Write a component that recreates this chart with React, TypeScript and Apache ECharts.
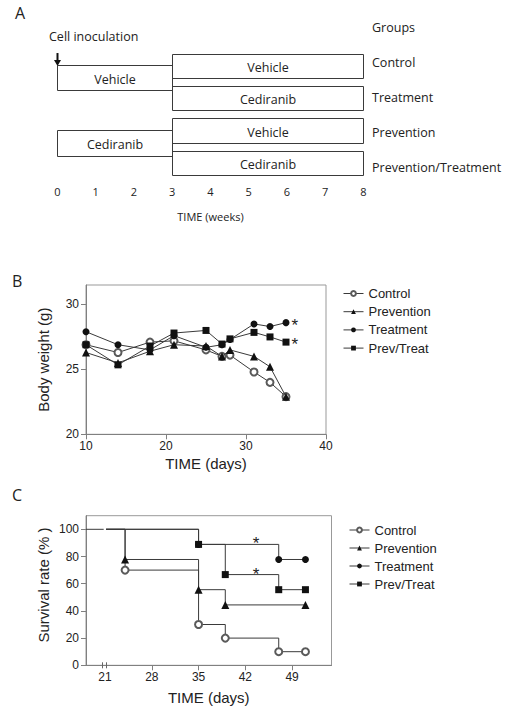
import { useEffect, useRef } from 'react';
import * as echarts from 'echarts';

// ---------- Panel A: schedule ----------
const weekTicks = [0, 1, 2, 3, 4, 5, 6, 7, 8];
// [startWeek, endWeek, rowTop, rowBottom]
const scheduleBoxes = [
  [0, 3, 0.371, 1.144],
  [3, 8, 0, 0.76],
  [3, 8, 1, 1.76],
  [0, 3, 2.38, 3.155],
  [3, 8, 2, 2.76],
  [3, 8, 3, 3.76],
];
const scheduleLabels = ['Vehicle', 'Vehicle', 'Cediranib', 'Cediranib', 'Vehicle', 'Cediranib'];
const groupNames = ['Control', 'Treatment', 'Prevention', 'Prevention/Treatment'];
const inoculationArrow = [[0, -0.03, 0.371]];

// ---------- Panel B: body weight ----------
const seriesNames = ['Control', 'Prevention', 'Treatment', 'Prev/Treat'];
const weightDays = [10, 14, 18, 21, 25, 27, 28, 31, 33, 35];
const weightControl = [26.9, 26.3, 27.1, 27.2, 26.5, 26.0, 26.1, 24.8, 24.0, 22.9];
const weightPrevention = [26.3, 25.5, 26.4, 26.9, 26.8, 26.0, 26.5, 26.0, 25.2, 22.9];
const weightTreatment = [27.9, 26.9, 26.5, 27.6, 26.7, 26.9, 27.3, 28.5, 28.3, 28.6];
const weightPrevTreat = [26.9, 25.35, 26.8, 27.8, 28.0, 26.95, 27.35, 27.85, 27.5, 27.1];
const weightStars = [[36.1, 28.68], [36.1, 27.2]];
const weightTicks = [20, 25, 30];
const weightDayTicks = [10, 20, 30, 40];

// ---------- Panel C: survival ----------
const survivalControl = [[21.15, 100], [24, 70], [35, 30], [39, 20], [47, 10], [51, 10]];
const survivalPrevention = [[21.15, 100], [24, 77.8], [35, 55.6], [39, 44.4], [51, 44.4]];
const survivalTreatment = [[21.15, 100], [35, 88.9], [47, 77.8], [51, 77.8]];
const survivalPrevTreat = [[21.15, 100], [35, 88.9], [39, 66.7], [47, 55.6], [51, 55.6]];
const survivalBeforeBreak = [[18.15, 100], [20.8, 100]];
const survivalStars = [[43.6, 92.6], [43.6, 70]];
const axisBreakDays = [20.6, 21.15];
const survivalTicks = [0, 20, 40, 60, 80, 100];
const survivalDayLabels = [21, 28, 35, 42, 49];
const survivalDayTicks = [28, 35, 42, 49];

const symbols = ['emptyCircle', 'triangle', 'circle', 'rect'];

const SANS = '"Liberation Sans", Arial, sans-serif';
const HUMAN = '"Open Sans", sans-serif';
const INK = '#222';
const LINE = '#3a3a3a';
const FRAME = '#999';

function crisp(v: number) {
  return Math.round(v - 0.5) + 0.5;
}

export default function App() {
  const ref = useRef<HTMLDivElement>(null);

  useEffect(() => {
    if (!ref.current) return;
    const chart = echarts.init(ref.current, undefined, { renderer: 'svg' });

    const axisCommon = {
      axisLine: { show: true, lineStyle: { color: '#808080', width: 1 } },
      axisTick: { show: true, length: 5, lineStyle: { color: '#808080' } },
      splitLine: { show: false },
      nameTextStyle: { fontSize: 15, fontFamily: SANS, color: INK },
    };
    const labelCommon = { fontSize: 12, fontFamily: SANS, color: INK };

    const weightSets = [weightControl, weightPrevention, weightTreatment, weightPrevTreat];
    const survivalSets = [survivalControl, survivalPrevention, survivalTreatment, survivalPrevTreat];

    const markerStyle = (i: number) =>
      i === 0
        ? { color: '#5a5a5a', borderColor: '#5a5a5a', borderWidth: 1 }
        : { color: '#111', borderWidth: 0 };

    const weightSeries = seriesNames.map((name, i) => ({
      name,
      type: 'line',
      xAxisIndex: 1,
      yAxisIndex: 1,
      data: weightDays.map((d, j) => [d, weightSets[i][j]]),
      symbol: symbols[i],
      symbolSize: i === 1 ? 8 : 7,
      showSymbol: true,
      lineStyle: { color: LINE, width: 1 },
      itemStyle: markerStyle(i),
      emphasis: { disabled: true },
      z: 3 + i,
    }));

    const survivalSeries = seriesNames.map((name, i) => ({
      name,
      type: 'line',
      xAxisIndex: 2,
      yAxisIndex: 2,
      step: 'end',
      data: survivalSets[i].map((p, j) =>
        j === 0 ? { value: p, symbol: 'none' } : { value: p }
      ),
      symbol: symbols[i],
      symbolSize: i === 1 ? 8 : 7,
      lineStyle: { color: LINE, width: 1 },
      itemStyle: markerStyle(i),
      emphasis: { disabled: true },
      z: 3 + i,
    }));

    const starSeries = (xi: number, data: number[][]) => ({
      type: 'custom',
      xAxisIndex: xi,
      yAxisIndex: xi,
      data,
      z: 10,
      silent: true,
      renderItem: (_p: any, api: any) => {
        const c = api.coord([api.value(0), api.value(1)]);
        return {
          type: 'text',
          style: {
            text: '*',
            x: c[0],
            y: c[1] + 4,
            align: 'center',
            verticalAlign: 'middle',
            font: `17px ${SANS}`,
            fill: INK,
          },
        };
      },
    });

    const legendCommon = {
      orient: 'vertical',
      itemWidth: 20,
      itemHeight: 6,
      itemGap: 5,
      selectedMode: false,
      data: seriesNames,
      lineStyle: { width: 1 },
      textStyle: { fontSize: 13, fontFamily: SANS, color: INK },
    };

    const option: any = {
      animation: false,
      backgroundColor: '#fff',
      grid: [
        { left: 57.5, top: 54, width: 306, height: 121.6, outerBoundsMode: 'none' },
        {
          left: 86, top: 285, width: 240, height: 149.3, show: true,
          borderColor: FRAME, borderWidth: 1, backgroundColor: 'transparent', outerBoundsMode: 'none',
        },
        {
          left: 86, top: 515.7, width: 245.5, height: 149.6, show: true,
          borderColor: FRAME, borderWidth: 1, backgroundColor: 'transparent', outerBoundsMode: 'none',
        },
      ],
      xAxis: [
        {
          gridIndex: 0, type: 'value', min: 0, max: 8, interval: 1,
          axisLine: { show: false }, axisTick: { show: false }, splitLine: { show: false },
          axisLabel: {
            fontSize: 11, fontFamily: HUMAN, color: INK, margin: 10,
            customValues: weekTicks,
          },
          name: 'TIME (weeks)', nameLocation: 'middle', nameGap: 35,
          nameTextStyle: { fontSize: 11, fontFamily: HUMAN, color: INK },
        },
        {
          gridIndex: 1, type: 'value', min: 10, max: 40, interval: 10,
          ...axisCommon,
          axisTick: { ...axisCommon.axisTick, customValues: weightDayTicks },
          axisLabel: { ...labelCommon, margin: 6, customValues: weightDayTicks },
          name: 'TIME (days)', nameLocation: 'middle', nameGap: 22,
        },
        {
          gridIndex: 2, type: 'value', min: 18.15, max: 54.9,
          ...axisCommon,
          axisTick: { ...axisCommon.axisTick, customValues: survivalDayTicks },
          axisLabel: { ...labelCommon, margin: 6, customValues: survivalDayLabels },
          name: 'TIME (days)', nameLocation: 'middle', nameGap: 25,
        },
      ],
      yAxis: [
        { gridIndex: 0, type: 'value', min: 0, max: 3.76, inverse: true, show: false },
        {
          gridIndex: 1, type: 'value', min: 20, max: 31.5, interval: 5,
          ...axisCommon,
          axisTick: { ...axisCommon.axisTick, customValues: weightTicks },
          axisLabel: { ...labelCommon, margin: 7, customValues: weightTicks },
          name: 'Body weight (g)', nameLocation: 'middle', nameGap: 35,
        },
        {
          gridIndex: 2, type: 'value', min: 0, max: 110, interval: 20,
          ...axisCommon,
          axisTick: { ...axisCommon.axisTick, customValues: survivalTicks },
          axisLabel: { ...labelCommon, margin: 7, customValues: survivalTicks },
          name: 'Survival rate (% )', nameLocation: 'middle', nameGap: 35,
          nameTextStyle: { ...axisCommon.nameTextStyle, padding: [0, 0, 0, 11] },
        },
      ],
      legend: [
        { ...legendCommon, left: 338, top: 282, itemGap: 5.2 },
        { ...legendCommon, left: 344, top: 518.5, itemGap: 5 },
      ],
      graphic: [
        { type: 'text', x: 15, y: 13, style: { text: 'A', font: `16px ${HUMAN}`, fill: INK, verticalAlign: 'middle' } },
        { type: 'text', x: 12, y: 281, style: { text: 'B', font: `16px ${HUMAN}`, fill: INK, verticalAlign: 'middle' } },
        { type: 'text', x: 12, y: 494.5, style: { text: 'C', font: `16px ${HUMAN}`, fill: INK, verticalAlign: 'middle' } },
        { type: 'text', x: 49, y: 36, style: { text: 'Cell inoculation', font: `12.5px ${HUMAN}`, fill: INK, verticalAlign: 'middle' } },
        { type: 'text', x: 372, y: 27, style: { text: 'Groups', font: `12.5px ${HUMAN}`, fill: INK, verticalAlign: 'middle' } },
        ...groupNames.map((g, i) => ({
          type: 'text', x: 372, y: 62 + 35 * i,
          style: { text: g, font: `12.5px ${HUMAN}`, fill: INK, verticalAlign: 'middle' },
        })),
      ],
      series: [
        {
          type: 'custom',
          xAxisIndex: 0,
          yAxisIndex: 0,
          silent: true,
          data: scheduleBoxes.map((b, i) => [...b, i]),
          renderItem: (_p: any, api: any) => {
            const p0 = api.coord([api.value(0), api.value(2)]);
            const p1 = api.coord([api.value(1), api.value(3)]);
            const x0 = crisp(p0[0]);
            const y0 = crisp(p0[1]);
            const x1 = crisp(p1[0]);
            const y1 = crisp(p1[1]);
            const label = scheduleLabels[api.value(4)];
            return {
              type: 'group',
              children: [
                {
                  type: 'rect',
                  shape: { x: x0, y: y0, width: x1 - x0, height: y1 - y0 },
                  style: { fill: 'none', stroke: '#3a3a3a', lineWidth: 1 },
                },
                {
                  type: 'text',
                  style: {
                    text: label,
                    x: (x0 + x1) / 2,
                    y: (y0 + y1) / 2 + 1,
                    align: 'center',
                    verticalAlign: 'middle',
                    font: `12.5px ${HUMAN}`,
                    fill: INK,
                  },
                },
              ],
            };
          },
        },
        {
          type: 'custom',
          xAxisIndex: 0,
          yAxisIndex: 0,
          silent: true,
          data: inoculationArrow,
          renderItem: (_p: any, api: any) => {
            const top = api.coord([api.value(0), api.value(1)]);
            const tip = api.coord([api.value(0), api.value(2)]);
            const x = crisp(top[0]);
            return {
              type: 'group',
              children: [
                {
                  type: 'line',
                  shape: { x1: x, y1: top[1], x2: x, y2: tip[1] - 5 },
                  style: { stroke: '#111', lineWidth: 2 },
                },
                {
                  type: 'polygon',
                  shape: { points: [[x - 3.5, tip[1] - 6], [x + 3.5, tip[1] - 6], [x, tip[1]]] },
                  style: { fill: '#111' },
                },
              ],
            };
          },
        },
        ...weightSeries,
        {
          type: 'line',
          xAxisIndex: 2,
          yAxisIndex: 2,
          data: survivalBeforeBreak,
          symbol: 'none',
          lineStyle: { color: LINE, width: 1 },
          emphasis: { disabled: true },
          silent: true,
        },
        ...survivalSeries,
        starSeries(1, weightStars),
        starSeries(2, survivalStars),
        {
          type: 'custom',
          xAxisIndex: 2,
          yAxisIndex: 2,
          silent: true,
          data: axisBreakDays.map((d) => [d, 0]),
          z: 10,
          renderItem: (_p: any, api: any) => {
            const c = api.coord([api.value(0), api.value(1)]);
            const x = crisp(c[0]);
            return {
              type: 'line',
              shape: { x1: x, y1: c[1] - 3, x2: x, y2: c[1] + 3 },
              style: { stroke: '#666', lineWidth: 1 },
            };
          },
        },
      ],
    };

    chart.setOption(option);
    return () => chart.dispose();
  }, []);

  return (
    <div
      ref={ref}
      style={{ position: 'absolute', left: 0, top: 0, width: 509, height: 715, background: '#fff' }}
    />
  );
}
